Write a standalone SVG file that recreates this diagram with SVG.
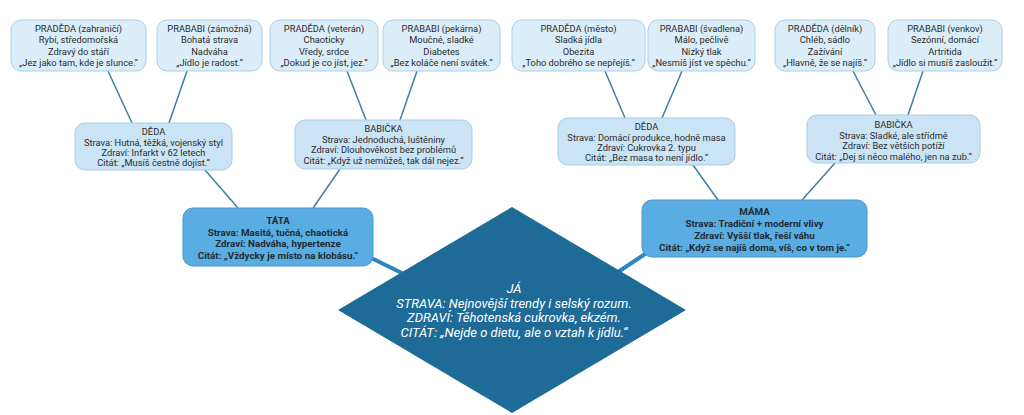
<svg xmlns="http://www.w3.org/2000/svg" width="1024" height="415" viewBox="0 0 1024 415">
<style>
.bg{fill:#ffffff}
.top{fill:#dbedf8;stroke:#a9cfe8;stroke-width:1}
.mid{fill:#cae4f6;stroke:#a5cbe6;stroke-width:1}
.par{fill:#5aade2;stroke:#4797cf;stroke-width:1}
.t{font-family:Roboto,"Liberation Sans",sans-serif;font-size:9.3px;fill:#2b2b2b;text-anchor:middle}
.b{font-family:Roboto,"Liberation Sans",sans-serif;font-size:9.8px;font-weight:bold;fill:#1f2a33;text-anchor:middle}
.me{font-family:Roboto,"Liberation Sans",sans-serif;font-size:13px;font-style:italic;fill:#ffffff;text-anchor:middle}
.thin{stroke:#3f7f9f;stroke-width:1.5;fill:none}
.thick{stroke:#2a85c4;stroke-width:4;fill:none}
</style>
<rect class="bg" x="0" y="0" width="1024" height="415"/>
<g id="connectors">
<line class="thin" x1="108" y1="71" x2="132" y2="123"/>
<line class="thin" x1="187" y1="71" x2="169" y2="123"/>
<line class="thin" x1="347" y1="71" x2="366" y2="120"/>
<line class="thin" x1="417" y1="71" x2="400" y2="120"/>
<line class="thin" x1="205" y1="170" x2="238" y2="208"/>
<line class="thin" x1="340" y1="169" x2="313" y2="208"/>
<line class="thin" x1="605" y1="71" x2="625" y2="118"/>
<line class="thin" x1="682" y1="71" x2="662" y2="118"/>
<line class="thin" x1="853" y1="71" x2="876" y2="115"/>
<line class="thin" x1="923" y1="71" x2="908" y2="115"/>
<line class="thin" x1="693" y1="165" x2="718" y2="200"/>
<line class="thin" x1="835" y1="163" x2="802" y2="200"/>
<line class="thick" x1="355" y1="250" x2="412" y2="278"/>
<line class="thick" x1="615" y1="274" x2="660" y2="244"/>
</g>
<g id="n-pradeda-zahranici">
<rect class="top" x="11" y="20" width="135" height="51" rx="10"/>
<text class="t" x="78.5" y="31.5">PRADĚDA (zahraničí)</text>
<text class="t" x="78.5" y="43">Rybí, středomořská</text>
<text class="t" x="78.5" y="54.5">Zdravý do stáří</text>
<text class="t" x="78.5" y="66">„Jez jako tam, kde je slunce.“</text>
</g>
<g id="n-prababi-zamozna">
<rect class="top" x="157" y="20" width="105" height="51" rx="10"/>
<text class="t" x="209.5" y="31.5">PRABABI (zámožná)</text>
<text class="t" x="209.5" y="43">Bohatá strava</text>
<text class="t" x="209.5" y="54.5">Nadváha</text>
<text class="t" x="209.5" y="66">„Jídlo je radost.“</text>
</g>
<g id="n-pradeda-veteran">
<rect class="top" x="270" y="20" width="108" height="51" rx="10"/>
<text class="t" x="324" y="31.5">PRADĚDA (veterán)</text>
<text class="t" x="324" y="43">Chaoticky</text>
<text class="t" x="324" y="54.5">Vředy, srdce</text>
<text class="t" x="324" y="66">„Dokud je co jíst, jez.“</text>
</g>
<g id="n-prababi-pekarna">
<rect class="top" x="383" y="20" width="117" height="51" rx="10"/>
<text class="t" x="441.5" y="31.5">PRABABI (pekárna)</text>
<text class="t" x="441.5" y="43">Moučné, sladké</text>
<text class="t" x="441.5" y="54.5">Diabetes</text>
<text class="t" x="441.5" y="66">„Bez koláče není svátek.“</text>
</g>
<g id="n-pradeda-mesto">
<rect class="top" x="512" y="20" width="133" height="51" rx="10"/>
<text class="t" x="578.5" y="31.5">PRADĚDA (město)</text>
<text class="t" x="578.5" y="43">Sladká jídla</text>
<text class="t" x="578.5" y="54.5">Obezita</text>
<text class="t" x="578.5" y="66">„Toho dobrého se nepřejíš.“</text>
</g>
<g id="n-prababi-svadlena">
<rect class="top" x="648" y="20" width="107" height="51" rx="10"/>
<text class="t" x="701.5" y="31.5">PRABABI (švadlena)</text>
<text class="t" x="701.5" y="43">Málo, pečlivě</text>
<text class="t" x="701.5" y="54.5">Nízký tlak</text>
<text class="t" x="701.5" y="66">„Nesmíš jíst ve spěchu.“</text>
</g>
<g id="n-pradeda-delnik">
<rect class="top" x="775" y="20" width="100" height="51" rx="10"/>
<text class="t" x="825" y="31.5">PRADĚDA (dělník)</text>
<text class="t" x="825" y="43">Chléb, sádlo</text>
<text class="t" x="825" y="54.5">Zažívání</text>
<text class="t" x="825" y="66">„Hlavně, že se najíš.“</text>
</g>
<g id="n-prababi-venkov">
<rect class="top" x="888" y="20" width="114" height="51" rx="10"/>
<text class="t" x="945" y="31.5">PRABABI (venkov)</text>
<text class="t" x="945" y="43">Sezónní, domácí</text>
<text class="t" x="945" y="54.5">Artritida</text>
<text class="t" x="945" y="66">„Jídlo si musíš zasloužit.“</text>
</g>
<g id="n-deda-l">
<rect class="mid" x="75" y="123" width="157" height="47" rx="10"/>
<text class="t" x="153.5" y="134.5">DĚDA</text>
<text class="t" x="153.5" y="145.5">Strava: Hutná, těžká, vojenský styl</text>
<text class="t" x="153.5" y="156">Zdraví: Infarkt v 62 letech</text>
<text class="t" x="153.5" y="166">Citát: „Musíš čestně dojíst.“</text>
</g>
<g id="n-babicka-l">
<rect class="mid" x="295" y="120" width="177" height="49" rx="10"/>
<text class="t" x="383.5" y="131.5">BABIČKA</text>
<text class="t" x="383.5" y="142.5">Strava: Jednoduchá, luštěniny</text>
<text class="t" x="383.5" y="153">Zdraví: Dlouhověkost bez problémů</text>
<text class="t" x="383.5" y="163.5">Citát: „Když už nemůžeš, tak dál nejez.“</text>
</g>
<g id="n-deda-r">
<rect class="mid" x="558" y="118" width="177" height="47" rx="10"/>
<text class="t" x="646.5" y="129.5">DĚDA</text>
<text class="t" x="646.5" y="140.5">Strava: Domácí produkce, hodně masa</text>
<text class="t" x="646.5" y="150.5">Zdraví: Cukrovka 2. typu</text>
<text class="t" x="646.5" y="160.5">Citát: „Bez masa to není jídlo.“</text>
</g>
<g id="n-babicka-r">
<rect class="mid" x="807" y="115" width="173" height="48" rx="10"/>
<text class="t" x="893.5" y="127.5">BABIČKA</text>
<text class="t" x="893.5" y="138.5">Strava: Sladké, ale střídmě</text>
<text class="t" x="893.5" y="148.5">Zdraví: Bez větších potíží</text>
<text class="t" x="893.5" y="159.5">Citát: „Dej si něco malého, jen na zub.“</text>
</g>
<g id="n-tata">
<rect class="par" x="183" y="208" width="190" height="58" rx="10"/>
<text class="b" x="278" y="223.5">TÁTA</text>
<text class="b" x="278" y="235.5">Strava: Masitá, tučná, chaotická</text>
<text class="b" x="278" y="247">Zdraví: Nadváha, hypertenze</text>
<text class="b" x="278" y="258.5">Citát: „Vždycky je místo na klobásu.“</text>
</g>
<g id="n-mama">
<rect class="par" x="642" y="200" width="225" height="57" rx="10"/>
<text class="b" x="754.5" y="214.5">MÁMA</text>
<text class="b" x="754.5" y="226.5">Strava: Tradiční + moderní vlivy</text>
<text class="b" x="754.5" y="238.5">Zdraví: Vyšší tlak, řeší váhu</text>
<text class="b" x="754.5" y="250.5">Citát: „Když se najíš doma, víš, co v tom je.“</text>
</g>
<g id="n-ja">
<polygon points="512,207 686,310 512,413 338,310" fill="#1e6b98"/>
<text class="me" x="514" y="293">JÁ</text>
<text class="me" x="514" y="307.5">STRAVA: Nejnovější trendy i selský rozum.</text>
<text class="me" x="514" y="322">ZDRAVÍ: Těhotenská cukrovka, ekzém.</text>
<text class="me" x="514" y="336.5">CITÁT: „Nejde o dietu, ale o vztah k jídlu.“</text>
</g>
</svg>
